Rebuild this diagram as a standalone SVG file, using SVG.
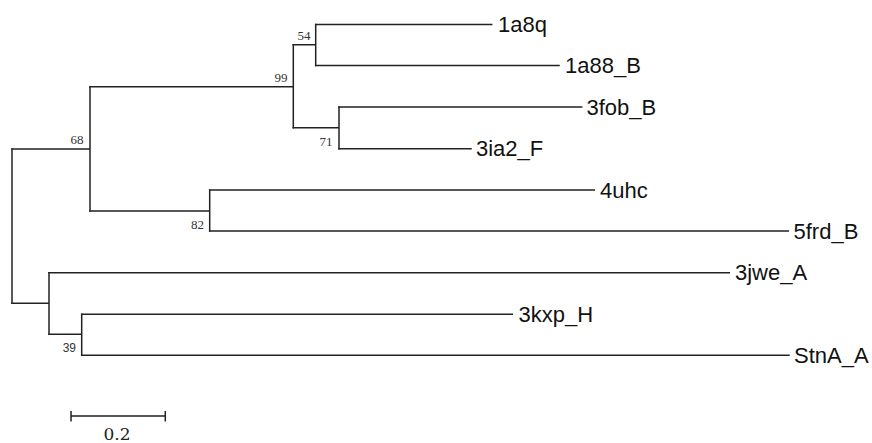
<svg xmlns="http://www.w3.org/2000/svg" width="872" height="443" viewBox="0 0 872 443">
<style>
.br{fill:none;stroke:#222;stroke-width:1.5;stroke-linecap:square}
.leaf{font-family:"Liberation Sans",Arial,sans-serif;font-size:22px;fill:#111}
.bs{font-family:"Liberation Serif","Times New Roman",serif;font-size:13px;fill:#333;text-anchor:end}
.bss{font-family:"Liberation Sans",Arial,sans-serif;font-size:12px;fill:#333;text-anchor:end}
.sc{font-family:"DejaVu Serif",serif;font-size:17px;fill:#222;text-anchor:middle}
</style>
<rect width="872" height="443" fill="#fff"/>
<g id="connectors">
<path class="br" d="M12,149 V303.3"/>
<path class="br" d="M12,149 H90 M90,86.7 V211"/>
<path class="br" d="M90,86.7 H293.3 M293.3,44.7 V127.7"/>
<path class="br" d="M293.3,44.7 H315.7 M315.7,24.4 V65.6"/>
<path class="br" d="M315.7,24.4 H491.7 M315.7,65.6 H559"/>
<path class="br" d="M293.3,127.7 H339 M339,107 V148.7"/>
<path class="br" d="M339,107 H581.7 M339,148.7 H471"/>
<path class="br" d="M90,211 H209.7 M209.7,190 V231"/>
<path class="br" d="M209.7,190 H594.3 M209.7,231 H788.3"/>
<path class="br" d="M12,303.3 H49 M49,272.7 V334.3"/>
<path class="br" d="M49,272.7 H729.3"/>
<path class="br" d="M49,334.3 H81.7 M81.7,314.3 V355.3"/>
<path class="br" d="M81.7,314.3 H512.3 M81.7,355.3 H789"/>
</g>
<g id="n54"><text class="bs" x="310.5" y="39.5">54</text></g>
<g id="n99"><text class="bs" x="287.5" y="81.5">99</text></g>
<g id="n71"><text class="bs" x="332.5" y="145.5">71</text></g>
<g id="n68"><text class="bs" x="83.5" y="143.5">68</text></g>
<g id="n82"><text class="bs" x="204" y="228.5">82</text></g>
<g id="n39"><text class="bss" x="76" y="351.5">39</text></g>
<g id="leaf-1a8q"><text class="leaf" x="498" y="32">1a8q</text></g>
<g id="leaf-1a88_B"><text class="leaf" x="565" y="73.2">1a88_B</text></g>
<g id="leaf-3fob_B"><text class="leaf" x="586.5" y="114.6">3fob_B</text></g>
<g id="leaf-3ia2_F"><text class="leaf" x="476" y="156.3">3ia2_F</text></g>
<g id="leaf-4uhc"><text class="leaf" x="600" y="197.6">4uhc</text></g>
<g id="leaf-5frd_B"><text class="leaf" x="793.5" y="238.6">5frd_B</text></g>
<g id="leaf-3jwe_A"><text class="leaf" x="735" y="280.3">3jwe_A</text></g>
<g id="leaf-3kxp_H"><text class="leaf" x="518.5" y="321.9">3kxp_H</text></g>
<g id="leaf-StnA_A"><text class="leaf" x="794" y="362.9">StnA_A</text></g>
<g id="scale">
<path class="br" d="M71,416 H165.3 M71,411.7 V420.7 M165.3,411.7 V420.7"/>
<text class="sc" x="117" y="439.5">0.2</text>
</g>
</svg>
